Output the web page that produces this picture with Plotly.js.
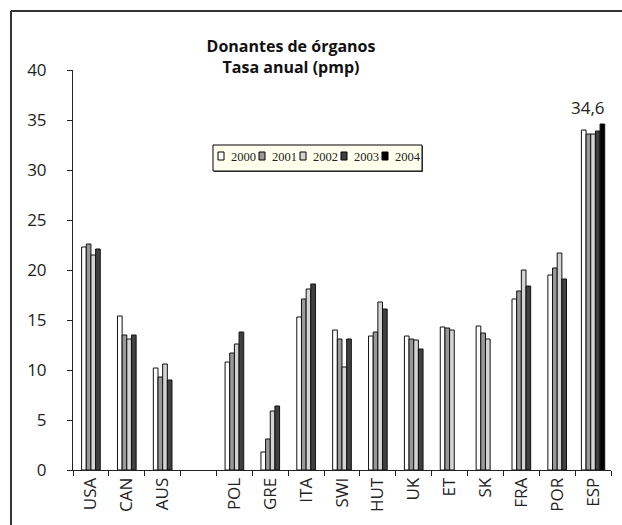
<!DOCTYPE html>
<html><head><meta charset="utf-8">
<script src="https://cdn.plot.ly/plotly-3.0.1.min.js"></script>
<style>html,body{margin:0;padding:0;background:#fff}</style>
</head><body><div id="chart" style="width:622px;height:525px"></div>
<script>
// ---- data ----
const countries = ['USA','CAN','AUS',' ','POL','GRE','ITA','SWI','HUT','UK','ET','SK','FRA','POR','ESP'];
const years = ['2000','2001','2002','2003','2004'];
const v2000 = [22.3,15.4,10.2,null,10.8,1.8,15.3,14.0,13.4,13.4,14.3,14.4,17.1,19.5,34.0];
const v2001 = [22.6,13.5,9.3,null,11.7,3.1,17.1,13.1,13.8,13.1,14.2,13.7,17.9,20.2,33.6];
const v2002 = [21.5,13.1,10.6,null,12.6,5.9,18.1,10.3,16.8,13.0,14.0,13.1,20.0,21.7,33.6];
const v2003 = [22.1,13.5,9.0,null,13.8,6.4,18.6,13.1,16.1,12.1,null,null,18.4,19.1,33.9];
const v2004 = [null,null,null,null,null,null,null,null,null,null,null,null,null,null,34.6];
const yTicks = [0,5,10,15,20,25,30,35,40];

// ---- styles ----
const series = [v2000,v2001,v2002,v2003,v2004];
const colors = ['#ffffff','#999999','#d4d4d4','#404040','#000000'];
const W = 0.13;
const FONT = 'Open Sans, Noto Sans, sans-serif';

// plot area in px
const L = 73, R = 611, T = 70, B = 470;
const px = x => (x - L) / (R - L);
const py = y => (B - y) / (B - T);

const traces = series.map((vals, i) => {
  const offs = countries.map((c, k) => {
    const n = v2004[k] != null ? 5 : 4;
    return -n * W / 2 + i * W;
  });
  return {
    type: 'bar', name: years[i], x: countries, y: vals,
    width: W, offset: offs,
    marker: {color: colors[i], line: {color: '#111', width: 1}},
    showlegend: false, hoverinfo: 'x+y'
  };
});

const shapes = [];
const annotations = [];
// frame
shapes.push({type:'line', xref:'paper', yref:'paper', x0:px(11), x1:px(11), y0:py(11), y1:py(540), line:{color:'#333', width:2}});
shapes.push({type:'line', xref:'paper', yref:'paper', x0:px(11), x1:px(640), y0:py(11), y1:py(11), line:{color:'#333', width:2}});
// manual legend
shapes.push({type:'rect', xref:'paper', yref:'paper', x0:px(214), x1:px(423), y0:py(146), y1:py(172), fillcolor:'#555', line:{width:0}});
shapes.push({type:'rect', xref:'paper', yref:'paper', x0:px(213), x1:px(422), y0:py(145), y1:py(171), fillcolor:'#ffffee', line:{color:'#000', width:1}});
years.forEach((yr, i) => {
  const sx = 218 + i * 41;
  shapes.push({type:'rect', xref:'paper', yref:'paper', x0:px(sx), x1:px(sx+6), y0:py(152), y1:py(160), fillcolor:colors[i], line:{color:'#000', width:1}});
  annotations.push({xref:'paper', yref:'paper', x:px(sx+11), y:py(157), xanchor:'left', yanchor:'middle', showarrow:false, text:yr,
    font:{family:'Liberation Serif, serif', size:12.5, color:'#222'}});
});
// data label
annotations.push({x:'ESP', y:v2004[14], xref:'x', yref:'y', xshift:-5, yshift:3, yanchor:'bottom', showarrow:false,
  text:String(v2004[14]).replace('.', ','), font:{family:FONT, size:17, color:'#222'}});

const layout = {
  width:622, height:525,
  margin:{l:L, r:622-R, t:T, b:525-B, pad:0},
  paper_bgcolor:'#fff', plot_bgcolor:'#fff',
  barmode:'overlay',
  title:{text:'<b>Donantes de órganos<br>Tasa anual (pmp)</b>', x:291/622, xref:'container', xanchor:'center',
    y:1-52/525, yref:'container', yanchor:'top', font:{family:FONT, size:16, color:'#111'}},
  xaxis:{type:'category', range:[-0.5,14.5], tickson:'boundaries', ticks:'outside', ticklen:5, tickcolor:'#222',
    showline:true, linecolor:'#222', linewidth:1, tickangle:-90, tickfont:{family:FONT, size:17, color:'#222'},
    showgrid:false, zeroline:false, automargin:false, fixedrange:true},
  yaxis:{range:[0,40], tickvals:yTicks, ticks:'outside', ticklen:5, tickcolor:'#222', ticklabelstandoff:17,
    showline:true, linecolor:'#222', linewidth:1, tickfont:{family:FONT, size:17, color:'#222'},
    showgrid:false, zeroline:false, automargin:false, fixedrange:true},
  shapes, annotations, showlegend:false
};
Plotly.newPlot('chart', traces, layout, {displayModeBar:false, staticPlot:true});
</script></body></html>
